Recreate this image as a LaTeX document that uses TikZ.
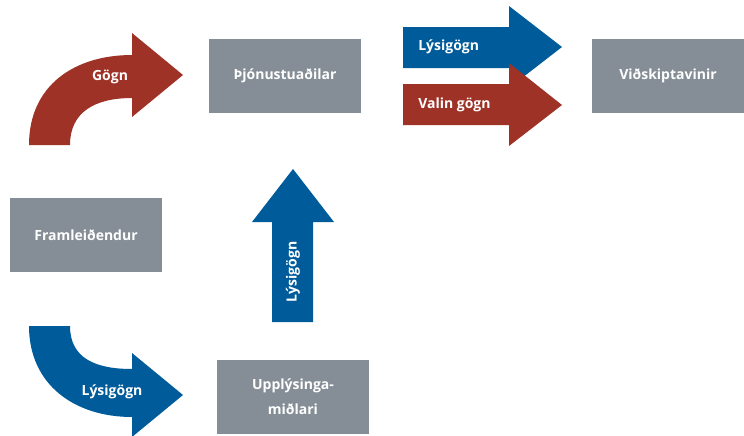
\documentclass[tikz,border=0pt]{standalone}
\usepackage{fontspec}
\setmainfont{Open Sans}
\usepackage{tikz}

\definecolor{boxgray}{RGB}{133,142,150}
\definecolor{flowblue}{RGB}{0,91,154}
\definecolor{flowred}{RGB}{158,50,38}

\tikzset{
  actor/.style={fill=boxgray, text=white, font=\bfseries\fontsize{10.5}{13}\selectfont, align=center, minimum width=114pt, minimum height=56pt, inner sep=0.75pt},
  flowlabel/.style={text=white, font=\bfseries\fontsize{10.5}{13}\selectfont, inner sep=0.75pt}
}

\begin{document}
\begin{tikzpicture}[x=0.75pt,y=0.75pt,yscale=-1,xscale=1]
\useasboundingbox (0,0) rectangle (744,436);

%Shape: Curved Arrow [id:gogn]
\fill [flowred] (29,145) .. controls (29,85) and (75,55) .. (132,55) -- (132,33) -- (183,75) -- (132,117) -- (132,98) .. controls (95,98) and (70,112) .. (70,145) -- cycle ;
%Shape: Curved Arrow [id:lysi_nidur]
\fill [flowblue] (29,326) .. controls (29,385) and (75,417) .. (132,417) -- (132,437) -- (183,395) -- (132,353) -- (132,369) .. controls (95,369) and (70,358) .. (70,326) -- cycle ;
%Shape: Up Arrow [id:lysi_upp]
\fill [flowblue] (272,322) -- (272,222) -- (252,222) -- (293,169) -- (334,222) -- (313,222) -- (313,322) -- cycle ;
%Shape: Right Arrow [id:lysi_haegri]
\fill [flowblue] (403,27) -- (509,27) -- (509,6) -- (562,47) -- (509,88) -- (509,68) -- (403,68) -- cycle ;
%Shape: Right Arrow [id:valin]
\fill [flowred] (403,84) -- (509,84) -- (509,63) -- (562,105) -- (509,146) -- (509,125) -- (403,125) -- cycle ;

% Box Nodes
\node [actor] (thjon) at (285,76) {Þjónustuaðilar};
\node [actor] (vidsk) at (668,76) {Viðskiptavinir};
\node [actor] (framl) at (86,235) {Framleiðendur};
\node [actor] (uppl) at (293,397) {Upplýsinga-\\[6pt]miðlari};

% Text Node
\node [flowlabel] (t_gogn) at (110,77) {Gögn};
% Text Node
\node [flowlabel] (t_lysi1) at (112,392) {Lýsigögn};
% Text Node
\node [flowlabel, rotate=90] (t_lysi2) at (293,272) {Lýsigögn};
% Text Node
\node [flowlabel, anchor=west] (t_lysi3) at (417,47) {Lýsigögn};
% Text Node
\node [flowlabel, anchor=west] (t_valin) at (417,105) {Valin gögn};

\end{tikzpicture}
\end{document}
